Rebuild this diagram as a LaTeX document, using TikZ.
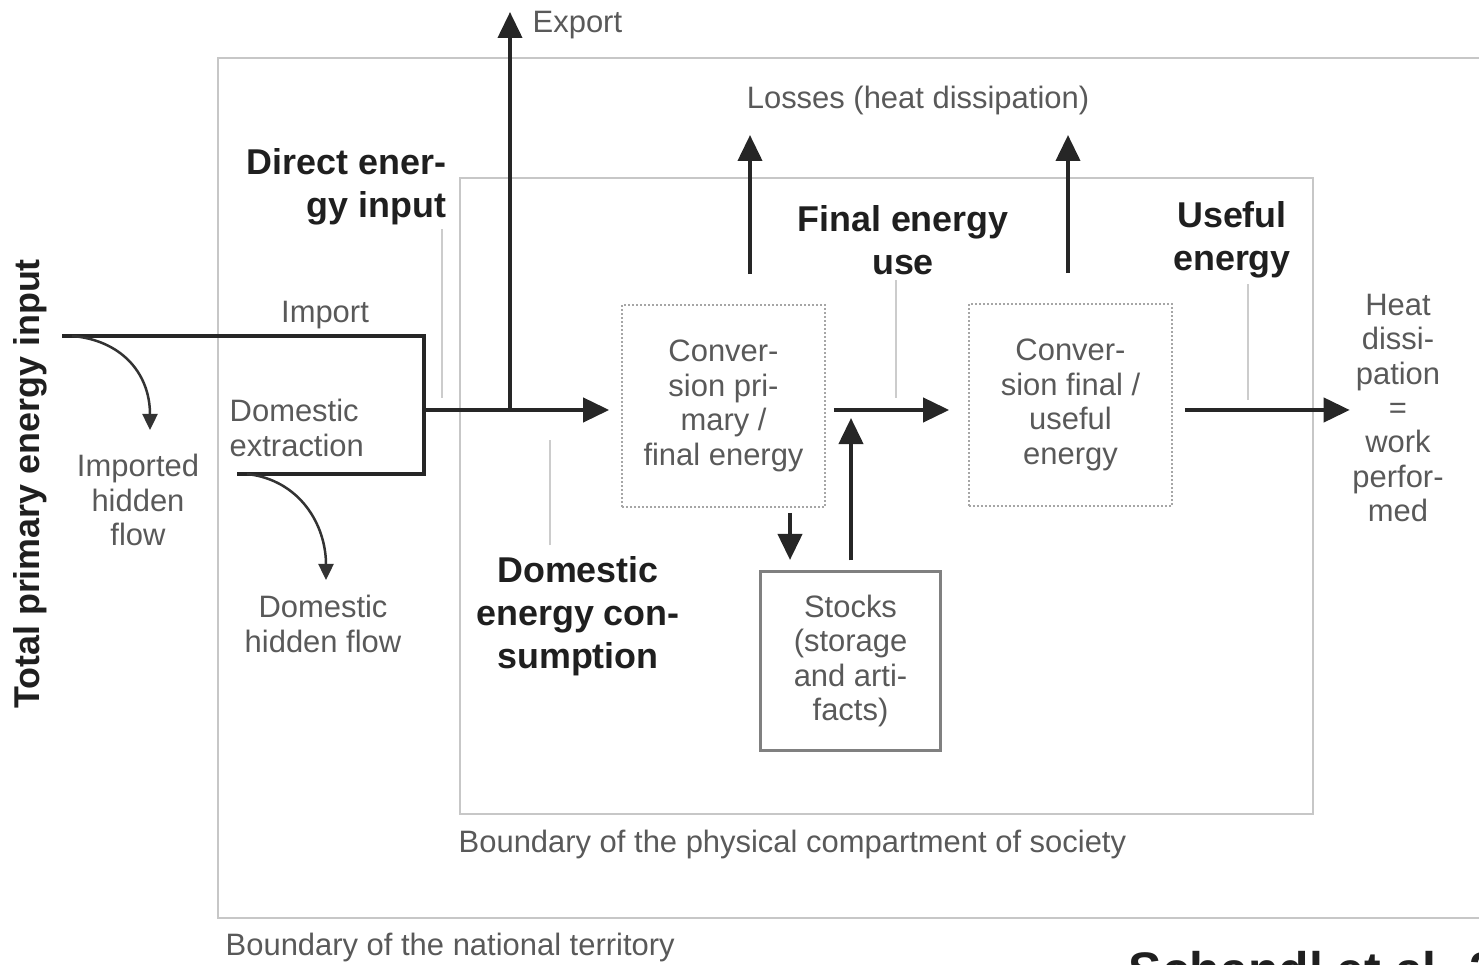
\documentclass[tikz,border=0pt]{standalone}
\usepackage{fontspec}
\setmainfont{Liberation Sans}
\usetikzlibrary{arrows.meta}
\tikzset{
  flow/.style={line width=0.04cm, draw=black!85, line join=miter, -{Triangle[length=0.26cm,width=0.24cm]}},
  hidden/.style={line width=0.025cm, draw=black!80, -{Triangle[length=0.16cm,width=0.15cm]}},
  pointer/.style={line width=0.02cm, draw=black!20},
  boundary/.style={line width=0.025cm, draw=black!22},
  lbl/.style={inner sep=0pt, text=black!65, font=\fontsize{8.8}{9.8}\selectfont, align=center},
  headlbl/.style={inner sep=0pt, text=black!88, font=\bfseries\fontsize{10.2}{12.3}\selectfont, align=center},
  convbox/.style={draw=black!35, dash pattern=on 0.02cm off 0.02cm, line width=0.015cm,
    minimum width=2.03cm, minimum height=2.02cm, inner sep=0pt},
  stockbox/.style={draw=black!50, line width=0.03cm, minimum width=1.79cm, minimum height=1.78cm, inner sep=0pt}
}
\begin{document}
\begin{tikzpicture}[x=0.01cm,y=-0.01cm]
\useasboundingbox (0,0) rectangle (1479,965);
% boundaries
\draw[boundary] (1479,58) -- (218,58) -- (218,918) -- (1479,918);
\draw[boundary] (460,178) rectangle (1313,814);
\node[lbl,anchor=west] (physb) at (458,845) {Boundary of the physical compartment of society};
\node[lbl,anchor=west] (natb) at (225,948) {Boundary of the national territory};

% boxes
\node[convbox] (conv1) at (723.5,406) {};
\node[lbl] (conv1txt) at (conv1) {Conver-\\sion pri-\\mary /\\final energy};
\node[convbox] (conv2) at (1070.5,405) {};
\node[lbl] (conv2txt) at (conv2) {Conver-\\sion final /\\useful\\energy};
\node[stockbox] (stocks) at (850.5,661) {};
\node[lbl] (stockstxt) at (stocks) {Stocks\\(storage\\and arti-\\facts)};
\node[lbl] (heat) at (1398,408) {Heat\\dissi-\\pation\\=\\work\\perfor-\\med};

% coordinates
\coordinate (tpe) at (62,336);
\coordinate (brk) at (424,410);
\coordinate (dex) at (237,474);
\coordinate (split) at (510,410);
\coordinate (exp) at (510,12);
\coordinate (ihf) at (150,430);
\coordinate (dhf) at (326,580);
\coordinate (loss1) at (750,135);
\coordinate (loss2) at (1068,135);
\coordinate (dn) at (790,560);
\coordinate (up) at (851,418);

% flows
\draw[flow,-] (tpe) -| (brk) |- (dex);
\draw[flow,shorten >=0.12cm] (brk) -- (conv1.west |- brk);
\draw[flow] (split) -- (exp);
\draw[flow,shorten <=0.3cm] (conv1.north -| loss1) -- (loss1);
\draw[flow,shorten <=0.3cm] (conv2.north -| loss2) -- (loss2);
\draw[flow,shorten <=0.05cm] (conv1.south -| dn) -- (dn);
\draw[flow,shorten <=0.1cm] (stocks.north -| up) -- (up);
\draw[flow,shorten <=0.08cm,shorten >=0.19cm] (conv1.east |- brk) -- (conv2.west |- brk);
\draw[flow,shorten <=0.12cm,shorten >=0.02cm] (conv2.east |- brk) -- (heat.west |- brk);
\draw[hidden] ([xshift=0.1cm]tpe) .. controls (120,340) and (150,372) .. (ihf);
\draw[hidden] ([xshift=0.1cm]dex) .. controls (300,480) and (326,525) .. (dhf);

% labels
\node[lbl,anchor=west] (explbl) at (532,25) {Export};
\node[lbl] (losses) at (918,101) {Losses (heat dissipation)};
\node[lbl] (implbl) at (325,315) {Import};
\node[lbl,anchor=west,align=left] (dexlbl) at (229,428) {Domestic\\extraction};
\node[lbl] (ihflbl) at (138,500) {Imported\\hidden\\flow};
\node[lbl] (dhflbl) at (323,624) {Domestic\\hidden flow};
\node[headlbl,anchor=east,align=right] (dei) at (447,187) {Direct ener-\\gy input};
\node[headlbl] (dec) at (578,616) {Domestic\\energy con-\\sumption};
\node[headlbl] (feu) at (903,240) {Final energy\\use};
\node[headlbl] (ue) at (1232,240) {Useful\\energy};
\node[headlbl,rotate=90] (tpei) at (30,484) {Total primary energy input};
\node[headlbl,anchor=base west,font=\bfseries\fontsize{14.2}{16}\selectfont] (src) at (1128,988) {Schandl et al. 2002};

% pointer lines
\coordinate (p1) at (442,398);
\coordinate (p2) at (550,440);
\coordinate (p3) at (896,398);
\coordinate (p4) at (1248,400);
\draw[pointer] ([yshift=-0.03cm]dei.south -| p1) -- (p1);
\draw[pointer] ([yshift=0.1cm]dec.north -| p2) -- (p2);
\draw[pointer] ([yshift=-0.05cm]feu.south -| p3) -- (p3);
\draw[pointer] ([yshift=-0.05cm]ue.south -| p4) -- (p4);
\end{tikzpicture}
\end{document}
